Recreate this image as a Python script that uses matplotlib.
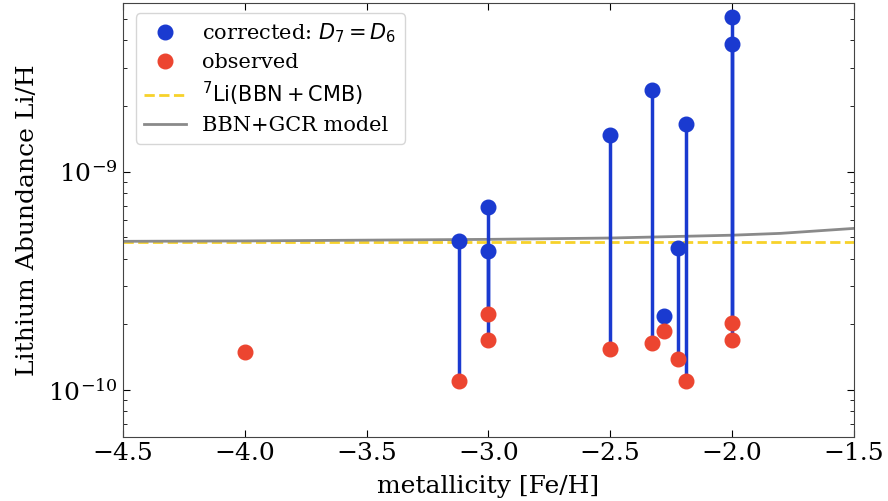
import matplotlib
matplotlib.use("Agg")
import matplotlib.pyplot as plt
import numpy as np

plt.rcParams["font.family"] = "DejaVu Serif"
plt.rcParams["mathtext.fontset"] = "dejavusans"

# metallicity of each star, observed Li/H and corrected Li/H
star_feh = [-3.12, -3.0, -3.0, -2.5, -2.33, -2.28, -2.22, -2.19, -2.0, -2.0]
li_observed = [1.10e-10, 2.24e-10, 1.69e-10, 1.54e-10, 1.64e-10, 1.86e-10,
               1.39e-10, 1.10e-10, 2.02e-10, 1.69e-10]
li_corrected = [4.81e-10, 6.92e-10, 4.34e-10, 1.47e-9, 2.37e-9, 2.18e-10,
                4.46e-10, 1.66e-9, 5.13e-9, 3.84e-9]

# star with no corrected value
extra_feh = [-4.0]
extra_obs = [1.49e-10]

# BBN + CMB prediction
li_bbn = 4.75e-10

# BBN+GCR model curve
gcr_feh = [-4.5, -4.0, -3.5, -3.0, -2.5, -2.0, -1.8, -1.5]
gcr_li = [4.80e-10, 4.82e-10, 4.86e-10, 4.90e-10, 4.97e-10, 5.12e-10, 5.22e-10, 5.50e-10]

blue = "#1a3ad0"
red = "#ec4530"
yellow = "#f7d22a"
gray = "#8a8a8a"

fig = plt.figure(figsize=(8.88, 5.01), dpi=100)
ax = fig.add_axes([0.1385, 0.1277, 0.8229, 0.8663])

# vertical connectors between observed and corrected values
ax.vlines(star_feh, li_observed, li_corrected, color=blue, lw=2.5, zorder=2)

ax.axhline(li_bbn, color=yellow, ls="--", lw=2, zorder=1,
           label=r"$^7\mathrm{Li(BBN + CMB)}$")
ax.plot(gcr_feh, gcr_li, color=gray, lw=2, zorder=1, label="BBN+GCR model")

ax.plot(star_feh, li_corrected, "o", color=blue, ms=10.5, ls="none", zorder=3,
        label=r"corrected: $D_7 = D_6$")
ax.plot(star_feh + extra_feh, li_observed + extra_obs, "o", color=red, ms=10.5,
        ls="none", zorder=3, label="observed")

ax.set_yscale("log")
ax.set_xlim(-4.5, -1.5)
ax.set_ylim(6.09e-11, 5.93e-9)
ax.set_xlabel("metallicity [Fe/H]", fontsize=18, labelpad=7)
ax.set_ylabel("Lithium Abundance Li/H", fontsize=18, labelpad=7)
ax.tick_params(which="both", direction="in", top=True, right=True, labelsize=18)
ax.tick_params(which="major", length=5)
ax.tick_params(which="minor", length=3)
for s in ax.spines.values():
    s.set_color("#444444")

h, l = ax.get_legend_handles_labels()
order = [2, 3, 0, 1]
ax.legend([h[i] for i in order], [l[i] for i in order], loc="upper left",
          fontsize=15, labelspacing=0.38, bbox_to_anchor=(0.003, 1.0))

fig.savefig("out.png", dpi=100)
